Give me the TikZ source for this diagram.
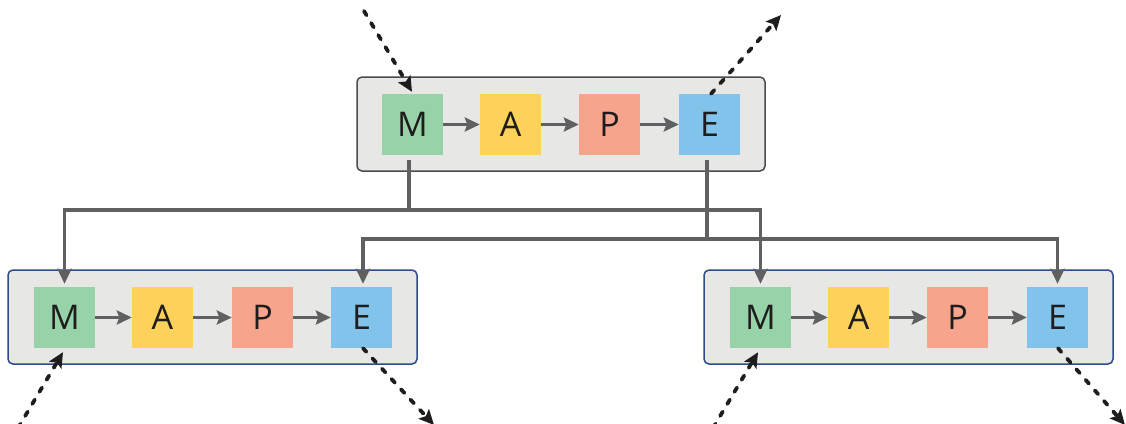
\documentclass[tikz,border=0pt]{standalone}
\usepackage{fontspec}
\setmainfont{Open Sans}
\usetikzlibrary{arrows.meta,calc}

\definecolor{mGreen}{HTML}{98D2A8}
\definecolor{aYellow}{HTML}{FDD15A}
\definecolor{pSalmon}{HTML}{F6A48B}
\definecolor{eBlue}{HTML}{82C3EC}
\definecolor{panel}{HTML}{E7E8E6}
\definecolor{topEdge}{HTML}{4A4B4C}
\definecolor{subEdge}{HTML}{2E4B8A}
\definecolor{wire}{HTML}{5E6062}
\definecolor{ink}{HTML}{1E1C1D}

\tikzset{
  stage/.style={minimum width=61pt, minimum height=61pt, inner sep=0pt,
    text=ink, font=\fontsize{34}{34}\selectfont},
  panelbox/.style={fill=panel, rounded corners=5pt, line width=1.5pt},
  conn/.style={draw=wire, line width=3.6pt,
    -{Stealth[length=15pt,width=14pt,inset=2.5pt]}},
  bus/.style={draw=wire, line width=3.6pt},
  flow/.style={draw=ink, line width=3.8pt, line cap=round,
    dash pattern=on 5pt off 9pt,
    -{Stealth[length=15pt,width=14pt,inset=3pt,line cap=butt]}}
}

\begin{document}
\begin{tikzpicture}[x=1pt,y=-1pt]
  \useasboundingbox (0,0) rectangle (1126,423);
  \clip (0,0) rectangle (1126,423);

  % panels of the three MAPE loops
  \path[panelbox, draw=topEdge] (357,77) rectangle (765,171);
  \path[panelbox, draw=subEdge] (8,270) rectangle (417,364);
  \path[panelbox, draw=subEdge] (704,270) rectangle (1113,364);

  % upper loop
  \node[stage, fill=mGreen]  (tM) at (412.5,124.5) {M};
  \node[stage, fill=aYellow] (tA) at (510.5,124.5) {A};
  \node[stage, fill=pSalmon] (tP) at (609.5,124.5) {P};
  \node[stage, fill=eBlue]   (tE) at (709.5,124.5) {E};

  % lower left loop
  \node[stage, fill=mGreen]  (lM) at (64.5,317.5) {M};
  \node[stage, fill=aYellow] (lA) at (162.5,317.5) {A};
  \node[stage, fill=pSalmon] (lP) at (262.5,317.5) {P};
  \node[stage, fill=eBlue]   (lE) at (361.5,317.5) {E};

  % lower right loop
  \node[stage, fill=mGreen]  (rM) at (760.5,317.5) {M};
  \node[stage, fill=aYellow] (rA) at (858.5,317.5) {A};
  \node[stage, fill=pSalmon] (rP) at (957.5,317.5) {P};
  \node[stage, fill=eBlue]   (rE) at (1057.5,317.5) {E};

  % M -> A -> P -> E inside every loop
  \foreach \l in {t,l,r} {
    \draw[conn] (\l M) -- (\l A);
    \draw[conn] (\l A) -- (\l P);
    \draw[conn] (\l P) -- (\l E);
  }

  % monitor bus from the upper loop to both lower monitors
  \coordinate (tMo) at ([xshift=-3.5pt,yshift=-5pt]tM.south);
  \coordinate (busM) at (409,210);
  \draw[bus] (tMo) -- (busM);
  \draw[conn] (busM) -| ([yshift=3pt]lM.north);
  \draw[conn] (busM) -| ([yshift=3pt]rM.north);

  % execute bus from the upper loop to both lower executors
  \coordinate (tEo) at ([xshift=-2.5pt,yshift=-5pt]tE.south);
  \coordinate (busE) at (707,239);
  \draw[bus] (tEo) -- (busE);
  \draw[conn] (busE) -| ([xshift=1.5pt,yshift=3pt]lE.north);
  \draw[conn] (busE) -| ([yshift=3pt]rE.north);

  % sensing inputs and effector outputs
  \coordinate (inT)  at (364,11);
  \coordinate (outT) at (781,15);
  \coordinate (inL)  at (18,428);
  \coordinate (outL) at (434,425);
  \coordinate (inR)  at (713,428);
  \coordinate (outR) at (1125,425);

  \draw[flow] (inT) -- ([xshift=-0.5pt,yshift=2pt]tM.north);
  \draw[flow] ([xshift=1.5pt]tE.north) -- (outT);
  \draw[flow] (inL) -- ([xshift=-1.5pt,yshift=-4pt]lM.south);
  \draw[flow] ([xshift=1.5pt]lE.south) -- (outL);
  \draw[flow] (inR) -- ([xshift=-2.5pt,yshift=-4pt]rM.south);
  \draw[flow] ([xshift=0.5pt]rE.south) -- (outR);
\end{tikzpicture}
\end{document}
